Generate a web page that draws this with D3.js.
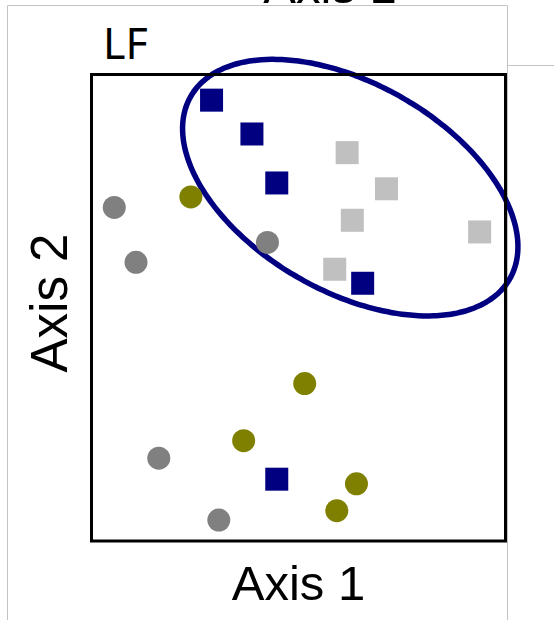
<!DOCTYPE html>
<html>
<head>
<meta charset="utf-8">
<script src="https://cdn.jsdelivr.net/npm/d3@7/dist/d3.min.js"></script>
<style>
  html, body { margin: 0; padding: 0; background: #ffffff; }
  svg { display: block; }
</style>
</head>
<body>
<div id="chart"></div>
<script>
// Ordination scores (Axis 1, Axis 2) for each group of samples
const navyX   = [-0.84, -0.45, -0.21, 0.62, -0.21];
const navyY   = [1.78, 1.49, 1.07, 0.21, -1.47];
const silverX = [0.47, 0.85, 0.52, 1.75, 0.35];
const silverY = [1.33, 1.02, 0.75, 0.65, 0.33];
const grayX   = [-1.78, -1.57, -0.30, -1.35, -0.77];
const grayY   = [0.86, 0.39, 0.56, -1.29, -1.82];
const oliveX  = [-1.04, 0.06, -0.53, 0.56, 0.37];
const oliveY  = [0.95, -0.65, -1.14, -1.51, -1.74];

// Confidence ellipse around the square-marker samples
const ellipseCenter = [0.50, 1.03];
const ellipseSpread = [1.62, 1.10];
const ellipseCorr   = -0.46;

// Axis extents and labels
const xDomain = [-2, 2];
const yDomain = [-2, 2];
const panelTitle = "LF";
const xLabel = "Axis 1";
const yLabel = "Axis 2";

const W = 554, H = 620;
const svg = d3.select("#chart").append("svg")
  .attr("width", W).attr("height", H)
  .attr("viewBox", `0 0 ${W} ${H}`);

svg.append("rect").attr("width", W).attr("height", H).attr("fill", "#ffffff");

const x = d3.scaleLinear().domain(xDomain).range([91.5, 505.5]);
const y = d3.scaleLinear().domain(yDomain).range([541, 74.5]);

// Label of the panel above, cut by the page edge
svg.append("defs").append("clipPath").attr("id", "topClip")
  .append("rect").attr("x", 0).attr("y", 0).attr("width", W).attr("height", 5);
svg.append("text")
  .attr("clip-path", "url(#topClip)")
  .attr("x", 330).attr("y", 3)
  .attr("text-anchor", "middle")
  .attr("font-family", "'Liberation Sans', Arial, sans-serif")
  .attr("font-size", 49)
  .attr("fill", "#000")
  .text(xLabel);

// Layout guides of the surrounding sheet
const guide = svg.append("g").attr("fill", "none").attr("stroke", "#c3c3c3").attr("stroke-width", 1);
guide.append("path").attr("d", "M7.5,620 V5.5 H507.5 V620");
guide.append("path").attr("d", "M507.5,65.5 H554");

// Ellipse outline built from its centre, spread and correlation
const ts = d3.range(0, 361, 2).map(d => d * Math.PI / 180);
const ellipsePts = ts.map(t => [
  ellipseCenter[0] + ellipseSpread[0] * Math.cos(t),
  ellipseCenter[1] + ellipseSpread[1] * (ellipseCorr * Math.cos(t) + Math.sqrt(1 - ellipseCorr * ellipseCorr) * Math.sin(t))
]);
svg.append("path")
  .datum(ellipsePts)
  .attr("fill", "none")
  .attr("stroke", "#000080")
  .attr("stroke-width", 5.5)
  .attr("d", d3.line().x(d => x(d[0])).y(d => y(d[1])).curve(d3.curveCardinalClosed));

// Markers
const zip = (xs, ys) => xs.map((v, i) => ({ x: v, y: ys[i] }));
const SQ = 23, R = 11.5;

function squares(data, color) {
  svg.append("g").selectAll("rect").data(data).join("rect")
    .attr("x", d => x(d.x) - SQ / 2)
    .attr("y", d => y(d.y) - SQ / 2)
    .attr("width", SQ).attr("height", SQ)
    .attr("fill", color);
}
function circles(data, color) {
  svg.append("g").selectAll("circle").data(data).join("circle")
    .attr("cx", d => x(d.x))
    .attr("cy", d => y(d.y))
    .attr("r", R)
    .attr("fill", color);
}
circles(zip(grayX, grayY), "#808080");
circles(zip(oliveX, oliveY), "#808000");
squares(zip(silverX, silverY), "#c0c0c0");
squares(zip(navyX, navyY), "#000080");

// Plot frame
svg.append("rect")
  .attr("x", x.range()[0]).attr("y", y.range()[1])
  .attr("width", x.range()[1] - x.range()[0])
  .attr("height", y.range()[0] - y.range()[1])
  .attr("fill", "none").attr("stroke", "#000").attr("stroke-width", 3);

// Titles
svg.append("text")
  .attr("x", 103).attr("y", 59)
  .attr("font-family", "'Noto Sans', sans-serif")
  .attr("font-size", 43)
  .attr("fill", "#000")
  .text(panelTitle);

svg.append("text")
  .attr("x", (x.range()[0] + x.range()[1]) / 2).attr("y", 600)
  .attr("text-anchor", "middle")
  .attr("font-family", "'Liberation Sans', Arial, sans-serif")
  .attr("font-size", 49)
  .attr("fill", "#000")
  .text(xLabel);

svg.append("text")
  .attr("transform", "translate(67,303) rotate(-90)")
  .attr("text-anchor", "middle")
  .attr("font-family", "'Liberation Sans', Arial, sans-serif")
  .attr("font-size", 51)
  .attr("fill", "#000")
  .text(yLabel);
</script>
</body>
</html>
